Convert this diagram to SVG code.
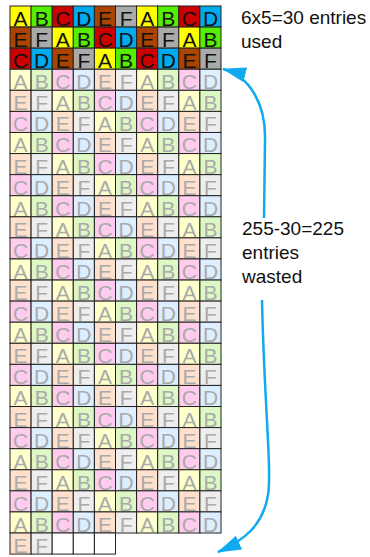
<svg xmlns="http://www.w3.org/2000/svg" width="370" height="557" viewBox="0 0 370 557">
<style>
rect{y:-20px;width:21.1px;height:21.08px;stroke:#222;stroke-width:1}
text{font-family:"Liberation Sans",Arial,sans-serif}
.cells text{font-size:21px;text-anchor:middle}
.lbl{font-size:19px;fill:#111}
.dA rect{fill:#ffff00}.dB rect{fill:#55ee00}.dC rect{fill:#cc0000}.dD rect{fill:#00aaee}.dE rect{fill:#aa4400}.dF rect{fill:#aaaaaa}
.dA text,.dB text,.dC text,.dD text,.dE text,.dF text{fill:#111}
.lA rect{fill:#ffffcc}.lB rect{fill:#ddf8c4}.lC rect{fill:#ffccee}.lD rect{fill:#ddeeff}.lE rect{fill:#ffe0cc}.lF rect{fill:#eeeeee}
.lA text,.lB text,.lC text,.lD text,.lE text,.lF text{fill:#aaaaaa}
.em rect{fill:#ffffff}
.arr{fill:none;stroke:#11aaee;stroke-width:2.5}
</style>
<defs>
<marker id="ah" markerUnits="userSpaceOnUse" markerWidth="26" markerHeight="16" refX="23" refY="7.5" orient="auto">
<path d="M0,0 L24,7.5 L0,15 Z" fill="#11aaee"/>
</marker>
</defs>
<g class="cells">
<g transform="translate(0,26)">
<g id="n0-0" class="dA"><rect x="10"/><text x="20.6">A</text></g><g id="n0-1" class="dB"><rect x="31.1"/><text x="41.7">B</text></g><g id="n0-2" class="dC"><rect x="52.2"/><text x="62.8">C</text></g><g id="n0-3" class="dD"><rect x="73.3"/><text x="83.9">D</text></g><g id="n0-4" class="dE"><rect x="94.4"/><text x="105">E</text></g><g id="n0-5" class="dF"><rect x="115.5"/><text x="126.1">F</text></g><g id="n0-6" class="dA"><rect x="136.6"/><text x="147.2">A</text></g><g id="n0-7" class="dB"><rect x="157.7"/><text x="168.3">B</text></g><g id="n0-8" class="dC"><rect x="178.8"/><text x="189.4">C</text></g><g id="n0-9" class="dD"><rect x="199.9"/><text x="210.5">D</text></g>
</g>
<g transform="translate(0,47.08)">
<g id="n1-0" class="dE"><rect x="10"/><text x="20.6">E</text></g><g id="n1-1" class="dF"><rect x="31.1"/><text x="41.7">F</text></g><g id="n1-2" class="dA"><rect x="52.2"/><text x="62.8">A</text></g><g id="n1-3" class="dB"><rect x="73.3"/><text x="83.9">B</text></g><g id="n1-4" class="dC"><rect x="94.4"/><text x="105">C</text></g><g id="n1-5" class="dD"><rect x="115.5"/><text x="126.1">D</text></g><g id="n1-6" class="dE"><rect x="136.6"/><text x="147.2">E</text></g><g id="n1-7" class="dF"><rect x="157.7"/><text x="168.3">F</text></g><g id="n1-8" class="dA"><rect x="178.8"/><text x="189.4">A</text></g><g id="n1-9" class="dB"><rect x="199.9"/><text x="210.5">B</text></g>
</g>
<g transform="translate(0,68.16)">
<g id="n2-0" class="dC"><rect x="10"/><text x="20.6">C</text></g><g id="n2-1" class="dD"><rect x="31.1"/><text x="41.7">D</text></g><g id="n2-2" class="dE"><rect x="52.2"/><text x="62.8">E</text></g><g id="n2-3" class="dF"><rect x="73.3"/><text x="83.9">F</text></g><g id="n2-4" class="dA"><rect x="94.4"/><text x="105">A</text></g><g id="n2-5" class="dB"><rect x="115.5"/><text x="126.1">B</text></g><g id="n2-6" class="dC"><rect x="136.6"/><text x="147.2">C</text></g><g id="n2-7" class="dD"><rect x="157.7"/><text x="168.3">D</text></g><g id="n2-8" class="dE"><rect x="178.8"/><text x="189.4">E</text></g><g id="n2-9" class="dF"><rect x="199.9"/><text x="210.5">F</text></g>
</g>
<g transform="translate(0,89.24)">
<g id="n3-0" class="lA"><rect x="10"/><text x="20.6">A</text></g><g id="n3-1" class="lB"><rect x="31.1"/><text x="41.7">B</text></g><g id="n3-2" class="lC"><rect x="52.2"/><text x="62.8">C</text></g><g id="n3-3" class="lD"><rect x="73.3"/><text x="83.9">D</text></g><g id="n3-4" class="lE"><rect x="94.4"/><text x="105">E</text></g><g id="n3-5" class="lF"><rect x="115.5"/><text x="126.1">F</text></g><g id="n3-6" class="lA"><rect x="136.6"/><text x="147.2">A</text></g><g id="n3-7" class="lB"><rect x="157.7"/><text x="168.3">B</text></g><g id="n3-8" class="lC"><rect x="178.8"/><text x="189.4">C</text></g><g id="n3-9" class="lD"><rect x="199.9"/><text x="210.5">D</text></g>
</g>
<g transform="translate(0,110.32)">
<g id="n4-0" class="lE"><rect x="10"/><text x="20.6">E</text></g><g id="n4-1" class="lF"><rect x="31.1"/><text x="41.7">F</text></g><g id="n4-2" class="lA"><rect x="52.2"/><text x="62.8">A</text></g><g id="n4-3" class="lB"><rect x="73.3"/><text x="83.9">B</text></g><g id="n4-4" class="lC"><rect x="94.4"/><text x="105">C</text></g><g id="n4-5" class="lD"><rect x="115.5"/><text x="126.1">D</text></g><g id="n4-6" class="lE"><rect x="136.6"/><text x="147.2">E</text></g><g id="n4-7" class="lF"><rect x="157.7"/><text x="168.3">F</text></g><g id="n4-8" class="lA"><rect x="178.8"/><text x="189.4">A</text></g><g id="n4-9" class="lB"><rect x="199.9"/><text x="210.5">B</text></g>
</g>
<g transform="translate(0,131.4)">
<g id="n5-0" class="lC"><rect x="10"/><text x="20.6">C</text></g><g id="n5-1" class="lD"><rect x="31.1"/><text x="41.7">D</text></g><g id="n5-2" class="lE"><rect x="52.2"/><text x="62.8">E</text></g><g id="n5-3" class="lF"><rect x="73.3"/><text x="83.9">F</text></g><g id="n5-4" class="lA"><rect x="94.4"/><text x="105">A</text></g><g id="n5-5" class="lB"><rect x="115.5"/><text x="126.1">B</text></g><g id="n5-6" class="lC"><rect x="136.6"/><text x="147.2">C</text></g><g id="n5-7" class="lD"><rect x="157.7"/><text x="168.3">D</text></g><g id="n5-8" class="lE"><rect x="178.8"/><text x="189.4">E</text></g><g id="n5-9" class="lF"><rect x="199.9"/><text x="210.5">F</text></g>
</g>
<g transform="translate(0,152.48)">
<g id="n6-0" class="lA"><rect x="10"/><text x="20.6">A</text></g><g id="n6-1" class="lB"><rect x="31.1"/><text x="41.7">B</text></g><g id="n6-2" class="lC"><rect x="52.2"/><text x="62.8">C</text></g><g id="n6-3" class="lD"><rect x="73.3"/><text x="83.9">D</text></g><g id="n6-4" class="lE"><rect x="94.4"/><text x="105">E</text></g><g id="n6-5" class="lF"><rect x="115.5"/><text x="126.1">F</text></g><g id="n6-6" class="lA"><rect x="136.6"/><text x="147.2">A</text></g><g id="n6-7" class="lB"><rect x="157.7"/><text x="168.3">B</text></g><g id="n6-8" class="lC"><rect x="178.8"/><text x="189.4">C</text></g><g id="n6-9" class="lD"><rect x="199.9"/><text x="210.5">D</text></g>
</g>
<g transform="translate(0,173.56)">
<g id="n7-0" class="lE"><rect x="10"/><text x="20.6">E</text></g><g id="n7-1" class="lF"><rect x="31.1"/><text x="41.7">F</text></g><g id="n7-2" class="lA"><rect x="52.2"/><text x="62.8">A</text></g><g id="n7-3" class="lB"><rect x="73.3"/><text x="83.9">B</text></g><g id="n7-4" class="lC"><rect x="94.4"/><text x="105">C</text></g><g id="n7-5" class="lD"><rect x="115.5"/><text x="126.1">D</text></g><g id="n7-6" class="lE"><rect x="136.6"/><text x="147.2">E</text></g><g id="n7-7" class="lF"><rect x="157.7"/><text x="168.3">F</text></g><g id="n7-8" class="lA"><rect x="178.8"/><text x="189.4">A</text></g><g id="n7-9" class="lB"><rect x="199.9"/><text x="210.5">B</text></g>
</g>
<g transform="translate(0,194.64)">
<g id="n8-0" class="lC"><rect x="10"/><text x="20.6">C</text></g><g id="n8-1" class="lD"><rect x="31.1"/><text x="41.7">D</text></g><g id="n8-2" class="lE"><rect x="52.2"/><text x="62.8">E</text></g><g id="n8-3" class="lF"><rect x="73.3"/><text x="83.9">F</text></g><g id="n8-4" class="lA"><rect x="94.4"/><text x="105">A</text></g><g id="n8-5" class="lB"><rect x="115.5"/><text x="126.1">B</text></g><g id="n8-6" class="lC"><rect x="136.6"/><text x="147.2">C</text></g><g id="n8-7" class="lD"><rect x="157.7"/><text x="168.3">D</text></g><g id="n8-8" class="lE"><rect x="178.8"/><text x="189.4">E</text></g><g id="n8-9" class="lF"><rect x="199.9"/><text x="210.5">F</text></g>
</g>
<g transform="translate(0,215.72)">
<g id="n9-0" class="lA"><rect x="10"/><text x="20.6">A</text></g><g id="n9-1" class="lB"><rect x="31.1"/><text x="41.7">B</text></g><g id="n9-2" class="lC"><rect x="52.2"/><text x="62.8">C</text></g><g id="n9-3" class="lD"><rect x="73.3"/><text x="83.9">D</text></g><g id="n9-4" class="lE"><rect x="94.4"/><text x="105">E</text></g><g id="n9-5" class="lF"><rect x="115.5"/><text x="126.1">F</text></g><g id="n9-6" class="lA"><rect x="136.6"/><text x="147.2">A</text></g><g id="n9-7" class="lB"><rect x="157.7"/><text x="168.3">B</text></g><g id="n9-8" class="lC"><rect x="178.8"/><text x="189.4">C</text></g><g id="n9-9" class="lD"><rect x="199.9"/><text x="210.5">D</text></g>
</g>
<g transform="translate(0,236.8)">
<g id="n10-0" class="lE"><rect x="10"/><text x="20.6">E</text></g><g id="n10-1" class="lF"><rect x="31.1"/><text x="41.7">F</text></g><g id="n10-2" class="lA"><rect x="52.2"/><text x="62.8">A</text></g><g id="n10-3" class="lB"><rect x="73.3"/><text x="83.9">B</text></g><g id="n10-4" class="lC"><rect x="94.4"/><text x="105">C</text></g><g id="n10-5" class="lD"><rect x="115.5"/><text x="126.1">D</text></g><g id="n10-6" class="lE"><rect x="136.6"/><text x="147.2">E</text></g><g id="n10-7" class="lF"><rect x="157.7"/><text x="168.3">F</text></g><g id="n10-8" class="lA"><rect x="178.8"/><text x="189.4">A</text></g><g id="n10-9" class="lB"><rect x="199.9"/><text x="210.5">B</text></g>
</g>
<g transform="translate(0,257.88)">
<g id="n11-0" class="lC"><rect x="10"/><text x="20.6">C</text></g><g id="n11-1" class="lD"><rect x="31.1"/><text x="41.7">D</text></g><g id="n11-2" class="lE"><rect x="52.2"/><text x="62.8">E</text></g><g id="n11-3" class="lF"><rect x="73.3"/><text x="83.9">F</text></g><g id="n11-4" class="lA"><rect x="94.4"/><text x="105">A</text></g><g id="n11-5" class="lB"><rect x="115.5"/><text x="126.1">B</text></g><g id="n11-6" class="lC"><rect x="136.6"/><text x="147.2">C</text></g><g id="n11-7" class="lD"><rect x="157.7"/><text x="168.3">D</text></g><g id="n11-8" class="lE"><rect x="178.8"/><text x="189.4">E</text></g><g id="n11-9" class="lF"><rect x="199.9"/><text x="210.5">F</text></g>
</g>
<g transform="translate(0,278.96)">
<g id="n12-0" class="lA"><rect x="10"/><text x="20.6">A</text></g><g id="n12-1" class="lB"><rect x="31.1"/><text x="41.7">B</text></g><g id="n12-2" class="lC"><rect x="52.2"/><text x="62.8">C</text></g><g id="n12-3" class="lD"><rect x="73.3"/><text x="83.9">D</text></g><g id="n12-4" class="lE"><rect x="94.4"/><text x="105">E</text></g><g id="n12-5" class="lF"><rect x="115.5"/><text x="126.1">F</text></g><g id="n12-6" class="lA"><rect x="136.6"/><text x="147.2">A</text></g><g id="n12-7" class="lB"><rect x="157.7"/><text x="168.3">B</text></g><g id="n12-8" class="lC"><rect x="178.8"/><text x="189.4">C</text></g><g id="n12-9" class="lD"><rect x="199.9"/><text x="210.5">D</text></g>
</g>
<g transform="translate(0,300.04)">
<g id="n13-0" class="lE"><rect x="10"/><text x="20.6">E</text></g><g id="n13-1" class="lF"><rect x="31.1"/><text x="41.7">F</text></g><g id="n13-2" class="lA"><rect x="52.2"/><text x="62.8">A</text></g><g id="n13-3" class="lB"><rect x="73.3"/><text x="83.9">B</text></g><g id="n13-4" class="lC"><rect x="94.4"/><text x="105">C</text></g><g id="n13-5" class="lD"><rect x="115.5"/><text x="126.1">D</text></g><g id="n13-6" class="lE"><rect x="136.6"/><text x="147.2">E</text></g><g id="n13-7" class="lF"><rect x="157.7"/><text x="168.3">F</text></g><g id="n13-8" class="lA"><rect x="178.8"/><text x="189.4">A</text></g><g id="n13-9" class="lB"><rect x="199.9"/><text x="210.5">B</text></g>
</g>
<g transform="translate(0,321.12)">
<g id="n14-0" class="lC"><rect x="10"/><text x="20.6">C</text></g><g id="n14-1" class="lD"><rect x="31.1"/><text x="41.7">D</text></g><g id="n14-2" class="lE"><rect x="52.2"/><text x="62.8">E</text></g><g id="n14-3" class="lF"><rect x="73.3"/><text x="83.9">F</text></g><g id="n14-4" class="lA"><rect x="94.4"/><text x="105">A</text></g><g id="n14-5" class="lB"><rect x="115.5"/><text x="126.1">B</text></g><g id="n14-6" class="lC"><rect x="136.6"/><text x="147.2">C</text></g><g id="n14-7" class="lD"><rect x="157.7"/><text x="168.3">D</text></g><g id="n14-8" class="lE"><rect x="178.8"/><text x="189.4">E</text></g><g id="n14-9" class="lF"><rect x="199.9"/><text x="210.5">F</text></g>
</g>
<g transform="translate(0,342.2)">
<g id="n15-0" class="lA"><rect x="10"/><text x="20.6">A</text></g><g id="n15-1" class="lB"><rect x="31.1"/><text x="41.7">B</text></g><g id="n15-2" class="lC"><rect x="52.2"/><text x="62.8">C</text></g><g id="n15-3" class="lD"><rect x="73.3"/><text x="83.9">D</text></g><g id="n15-4" class="lE"><rect x="94.4"/><text x="105">E</text></g><g id="n15-5" class="lF"><rect x="115.5"/><text x="126.1">F</text></g><g id="n15-6" class="lA"><rect x="136.6"/><text x="147.2">A</text></g><g id="n15-7" class="lB"><rect x="157.7"/><text x="168.3">B</text></g><g id="n15-8" class="lC"><rect x="178.8"/><text x="189.4">C</text></g><g id="n15-9" class="lD"><rect x="199.9"/><text x="210.5">D</text></g>
</g>
<g transform="translate(0,363.28)">
<g id="n16-0" class="lE"><rect x="10"/><text x="20.6">E</text></g><g id="n16-1" class="lF"><rect x="31.1"/><text x="41.7">F</text></g><g id="n16-2" class="lA"><rect x="52.2"/><text x="62.8">A</text></g><g id="n16-3" class="lB"><rect x="73.3"/><text x="83.9">B</text></g><g id="n16-4" class="lC"><rect x="94.4"/><text x="105">C</text></g><g id="n16-5" class="lD"><rect x="115.5"/><text x="126.1">D</text></g><g id="n16-6" class="lE"><rect x="136.6"/><text x="147.2">E</text></g><g id="n16-7" class="lF"><rect x="157.7"/><text x="168.3">F</text></g><g id="n16-8" class="lA"><rect x="178.8"/><text x="189.4">A</text></g><g id="n16-9" class="lB"><rect x="199.9"/><text x="210.5">B</text></g>
</g>
<g transform="translate(0,384.36)">
<g id="n17-0" class="lC"><rect x="10"/><text x="20.6">C</text></g><g id="n17-1" class="lD"><rect x="31.1"/><text x="41.7">D</text></g><g id="n17-2" class="lE"><rect x="52.2"/><text x="62.8">E</text></g><g id="n17-3" class="lF"><rect x="73.3"/><text x="83.9">F</text></g><g id="n17-4" class="lA"><rect x="94.4"/><text x="105">A</text></g><g id="n17-5" class="lB"><rect x="115.5"/><text x="126.1">B</text></g><g id="n17-6" class="lC"><rect x="136.6"/><text x="147.2">C</text></g><g id="n17-7" class="lD"><rect x="157.7"/><text x="168.3">D</text></g><g id="n17-8" class="lE"><rect x="178.8"/><text x="189.4">E</text></g><g id="n17-9" class="lF"><rect x="199.9"/><text x="210.5">F</text></g>
</g>
<g transform="translate(0,405.44)">
<g id="n18-0" class="lA"><rect x="10"/><text x="20.6">A</text></g><g id="n18-1" class="lB"><rect x="31.1"/><text x="41.7">B</text></g><g id="n18-2" class="lC"><rect x="52.2"/><text x="62.8">C</text></g><g id="n18-3" class="lD"><rect x="73.3"/><text x="83.9">D</text></g><g id="n18-4" class="lE"><rect x="94.4"/><text x="105">E</text></g><g id="n18-5" class="lF"><rect x="115.5"/><text x="126.1">F</text></g><g id="n18-6" class="lA"><rect x="136.6"/><text x="147.2">A</text></g><g id="n18-7" class="lB"><rect x="157.7"/><text x="168.3">B</text></g><g id="n18-8" class="lC"><rect x="178.8"/><text x="189.4">C</text></g><g id="n18-9" class="lD"><rect x="199.9"/><text x="210.5">D</text></g>
</g>
<g transform="translate(0,426.52)">
<g id="n19-0" class="lE"><rect x="10"/><text x="20.6">E</text></g><g id="n19-1" class="lF"><rect x="31.1"/><text x="41.7">F</text></g><g id="n19-2" class="lA"><rect x="52.2"/><text x="62.8">A</text></g><g id="n19-3" class="lB"><rect x="73.3"/><text x="83.9">B</text></g><g id="n19-4" class="lC"><rect x="94.4"/><text x="105">C</text></g><g id="n19-5" class="lD"><rect x="115.5"/><text x="126.1">D</text></g><g id="n19-6" class="lE"><rect x="136.6"/><text x="147.2">E</text></g><g id="n19-7" class="lF"><rect x="157.7"/><text x="168.3">F</text></g><g id="n19-8" class="lA"><rect x="178.8"/><text x="189.4">A</text></g><g id="n19-9" class="lB"><rect x="199.9"/><text x="210.5">B</text></g>
</g>
<g transform="translate(0,447.6)">
<g id="n20-0" class="lC"><rect x="10"/><text x="20.6">C</text></g><g id="n20-1" class="lD"><rect x="31.1"/><text x="41.7">D</text></g><g id="n20-2" class="lE"><rect x="52.2"/><text x="62.8">E</text></g><g id="n20-3" class="lF"><rect x="73.3"/><text x="83.9">F</text></g><g id="n20-4" class="lA"><rect x="94.4"/><text x="105">A</text></g><g id="n20-5" class="lB"><rect x="115.5"/><text x="126.1">B</text></g><g id="n20-6" class="lC"><rect x="136.6"/><text x="147.2">C</text></g><g id="n20-7" class="lD"><rect x="157.7"/><text x="168.3">D</text></g><g id="n20-8" class="lE"><rect x="178.8"/><text x="189.4">E</text></g><g id="n20-9" class="lF"><rect x="199.9"/><text x="210.5">F</text></g>
</g>
<g transform="translate(0,468.68)">
<g id="n21-0" class="lA"><rect x="10"/><text x="20.6">A</text></g><g id="n21-1" class="lB"><rect x="31.1"/><text x="41.7">B</text></g><g id="n21-2" class="lC"><rect x="52.2"/><text x="62.8">C</text></g><g id="n21-3" class="lD"><rect x="73.3"/><text x="83.9">D</text></g><g id="n21-4" class="lE"><rect x="94.4"/><text x="105">E</text></g><g id="n21-5" class="lF"><rect x="115.5"/><text x="126.1">F</text></g><g id="n21-6" class="lA"><rect x="136.6"/><text x="147.2">A</text></g><g id="n21-7" class="lB"><rect x="157.7"/><text x="168.3">B</text></g><g id="n21-8" class="lC"><rect x="178.8"/><text x="189.4">C</text></g><g id="n21-9" class="lD"><rect x="199.9"/><text x="210.5">D</text></g>
</g>
<g transform="translate(0,489.76)">
<g id="n22-0" class="lE"><rect x="10"/><text x="20.6">E</text></g><g id="n22-1" class="lF"><rect x="31.1"/><text x="41.7">F</text></g><g id="n22-2" class="lA"><rect x="52.2"/><text x="62.8">A</text></g><g id="n22-3" class="lB"><rect x="73.3"/><text x="83.9">B</text></g><g id="n22-4" class="lC"><rect x="94.4"/><text x="105">C</text></g><g id="n22-5" class="lD"><rect x="115.5"/><text x="126.1">D</text></g><g id="n22-6" class="lE"><rect x="136.6"/><text x="147.2">E</text></g><g id="n22-7" class="lF"><rect x="157.7"/><text x="168.3">F</text></g><g id="n22-8" class="lA"><rect x="178.8"/><text x="189.4">A</text></g><g id="n22-9" class="lB"><rect x="199.9"/><text x="210.5">B</text></g>
</g>
<g transform="translate(0,510.84)">
<g id="n23-0" class="lC"><rect x="10"/><text x="20.6">C</text></g><g id="n23-1" class="lD"><rect x="31.1"/><text x="41.7">D</text></g><g id="n23-2" class="lE"><rect x="52.2"/><text x="62.8">E</text></g><g id="n23-3" class="lF"><rect x="73.3"/><text x="83.9">F</text></g><g id="n23-4" class="lA"><rect x="94.4"/><text x="105">A</text></g><g id="n23-5" class="lB"><rect x="115.5"/><text x="126.1">B</text></g><g id="n23-6" class="lC"><rect x="136.6"/><text x="147.2">C</text></g><g id="n23-7" class="lD"><rect x="157.7"/><text x="168.3">D</text></g><g id="n23-8" class="lE"><rect x="178.8"/><text x="189.4">E</text></g><g id="n23-9" class="lF"><rect x="199.9"/><text x="210.5">F</text></g>
</g>
<g transform="translate(0,531.92)">
<g id="n24-0" class="lA"><rect x="10"/><text x="20.6">A</text></g><g id="n24-1" class="lB"><rect x="31.1"/><text x="41.7">B</text></g><g id="n24-2" class="lC"><rect x="52.2"/><text x="62.8">C</text></g><g id="n24-3" class="lD"><rect x="73.3"/><text x="83.9">D</text></g><g id="n24-4" class="lE"><rect x="94.4"/><text x="105">E</text></g><g id="n24-5" class="lF"><rect x="115.5"/><text x="126.1">F</text></g><g id="n24-6" class="lA"><rect x="136.6"/><text x="147.2">A</text></g><g id="n24-7" class="lB"><rect x="157.7"/><text x="168.3">B</text></g><g id="n24-8" class="lC"><rect x="178.8"/><text x="189.4">C</text></g><g id="n24-9" class="lD"><rect x="199.9"/><text x="210.5">D</text></g>
</g>
<g transform="translate(0,553)">
<g id="n25-0" class="lE"><rect x="10"/><text x="20.6">E</text></g><g id="n25-1" class="lF"><rect x="31.1"/><text x="41.7">F</text></g><g id="n25-2" class="em"><rect x="52.2"/></g><g id="n25-3" class="em"><rect x="73.3"/></g><g id="n25-4" class="em"><rect x="94.4"/></g>
</g>
</g>
<g id="label-used"><text class="lbl" x="241" y="24">6x5=30 entries</text><text class="lbl" x="241" y="48">used</text></g>
<g id="label-wasted"><text class="lbl" x="242" y="235">255-30=225</text><text class="lbl" x="242" y="259">entries</text><text class="lbl" x="242" y="283">wasted</text></g>
<g id="connectors">
<path class="arr" d="M264,218 L265,140 C266,105 250,76 223,69" marker-end="url(#ah)"/>
<path class="arr" d="M262,300 C264,400 272,470 268,495 C263,525 245,540 218,552" marker-end="url(#ah)"/>
</g>
</svg>
